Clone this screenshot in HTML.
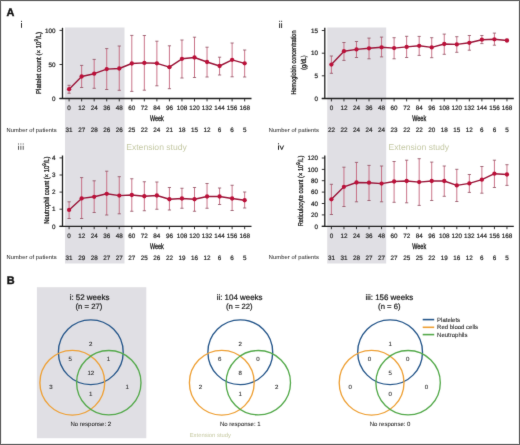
<!DOCTYPE html><html><head><meta charset="utf-8"><style>html,body{margin:0;padding:0;background:#fff;}svg{display:block;}text{font-family:"Liberation Sans", sans-serif;text-rendering:geometricPrecision;}#wrap{position:relative;width:520px;height:445px;overflow:hidden;background:#fff;}</style></head><body><div id="wrap">
<svg width="520" height="445" viewBox="0 0 520 445">
<defs><filter id="soft" x="0" y="0" width="520" height="445" filterUnits="userSpaceOnUse" color-interpolation-filters="sRGB"><feConvolveMatrix order="3" kernelMatrix="0.01 0.065 0.01 0.065 0.70 0.065 0.01 0.065 0.01" edgeMode="duplicate" preserveAlpha="true"/></filter></defs><g filter="url(#soft)">
<rect x="0" y="0" width="520" height="445" fill="#fff"/>
<rect x="65.0" y="27.5" width="59.5" height="236" fill="#e0dfe4"/>
<rect x="327.2" y="27.5" width="59.0" height="236" fill="#e0dfe4"/>
<text x="6.60" y="15.90" font-size="10.9" fill="#111" stroke="#111" stroke-width="0.4" font-weight="bold">A</text>
<text x="6.80" y="283.90" font-size="10.9" fill="#111" stroke="#111" stroke-width="0.4" font-weight="bold">B</text>
<line x1="62.50" y1="27.80" x2="62.50" y2="98.50" stroke="#202020" stroke-width="1.3"/>
<line x1="59.50" y1="98.50" x2="251.50" y2="98.50" stroke="#202020" stroke-width="1.3"/>
<line x1="59.50" y1="30.40" x2="62.50" y2="30.40" stroke="#202020" stroke-width="0.9"/>
<text x="55.60" y="32.60" font-size="6.3" fill="#262626" stroke="#262626" stroke-width="0.22" text-anchor="end">100</text>
<line x1="59.50" y1="64.50" x2="62.50" y2="64.50" stroke="#202020" stroke-width="0.9"/>
<text x="55.60" y="66.70" font-size="6.3" fill="#262626" stroke="#262626" stroke-width="0.22" text-anchor="end">50</text>
<line x1="59.50" y1="98.50" x2="62.50" y2="98.50" stroke="#202020" stroke-width="0.9"/>
<text x="55.60" y="100.70" font-size="6.3" fill="#262626" stroke="#262626" stroke-width="0.22" text-anchor="end">0</text>
<line x1="69.10" y1="98.50" x2="69.10" y2="101.40" stroke="#202020" stroke-width="0.9"/>
<text x="69.10" y="110.10" font-size="6.3" fill="#262626" stroke="#262626" stroke-width="0.19" text-anchor="middle">0</text>
<text x="69.10" y="131.70" font-size="6.3" fill="#262626" stroke="#262626" stroke-width="0.19" text-anchor="middle">31</text>
<line x1="81.64" y1="98.50" x2="81.64" y2="101.40" stroke="#202020" stroke-width="0.9"/>
<text x="81.64" y="110.10" font-size="6.3" fill="#262626" stroke="#262626" stroke-width="0.19" text-anchor="middle">12</text>
<text x="81.64" y="131.70" font-size="6.3" fill="#262626" stroke="#262626" stroke-width="0.19" text-anchor="middle">27</text>
<line x1="94.18" y1="98.50" x2="94.18" y2="101.40" stroke="#202020" stroke-width="0.9"/>
<text x="94.18" y="110.10" font-size="6.3" fill="#262626" stroke="#262626" stroke-width="0.19" text-anchor="middle">24</text>
<text x="94.18" y="131.70" font-size="6.3" fill="#262626" stroke="#262626" stroke-width="0.19" text-anchor="middle">28</text>
<line x1="106.72" y1="98.50" x2="106.72" y2="101.40" stroke="#202020" stroke-width="0.9"/>
<text x="106.72" y="110.10" font-size="6.3" fill="#262626" stroke="#262626" stroke-width="0.19" text-anchor="middle">36</text>
<text x="106.72" y="131.70" font-size="6.3" fill="#262626" stroke="#262626" stroke-width="0.19" text-anchor="middle">26</text>
<line x1="119.26" y1="98.50" x2="119.26" y2="101.40" stroke="#202020" stroke-width="0.9"/>
<text x="119.26" y="110.10" font-size="6.3" fill="#262626" stroke="#262626" stroke-width="0.19" text-anchor="middle">48</text>
<text x="119.26" y="131.70" font-size="6.3" fill="#262626" stroke="#262626" stroke-width="0.19" text-anchor="middle">26</text>
<line x1="131.80" y1="98.50" x2="131.80" y2="101.40" stroke="#202020" stroke-width="0.9"/>
<text x="131.80" y="110.10" font-size="6.3" fill="#262626" stroke="#262626" stroke-width="0.19" text-anchor="middle">60</text>
<text x="131.80" y="131.70" font-size="6.3" fill="#262626" stroke="#262626" stroke-width="0.19" text-anchor="middle">25</text>
<line x1="144.34" y1="98.50" x2="144.34" y2="101.40" stroke="#202020" stroke-width="0.9"/>
<text x="144.34" y="110.10" font-size="6.3" fill="#262626" stroke="#262626" stroke-width="0.19" text-anchor="middle">72</text>
<text x="144.34" y="131.70" font-size="6.3" fill="#262626" stroke="#262626" stroke-width="0.19" text-anchor="middle">22</text>
<line x1="156.88" y1="98.50" x2="156.88" y2="101.40" stroke="#202020" stroke-width="0.9"/>
<text x="156.88" y="110.10" font-size="6.3" fill="#262626" stroke="#262626" stroke-width="0.19" text-anchor="middle">84</text>
<text x="156.88" y="131.70" font-size="6.3" fill="#262626" stroke="#262626" stroke-width="0.19" text-anchor="middle">24</text>
<line x1="169.42" y1="98.50" x2="169.42" y2="101.40" stroke="#202020" stroke-width="0.9"/>
<text x="169.42" y="110.10" font-size="6.3" fill="#262626" stroke="#262626" stroke-width="0.19" text-anchor="middle">96</text>
<text x="169.42" y="131.70" font-size="6.3" fill="#262626" stroke="#262626" stroke-width="0.19" text-anchor="middle">21</text>
<line x1="181.96" y1="98.50" x2="181.96" y2="101.40" stroke="#202020" stroke-width="0.9"/>
<text x="181.96" y="110.10" font-size="6.3" fill="#262626" stroke="#262626" stroke-width="0.19" text-anchor="middle">108</text>
<text x="181.96" y="131.70" font-size="6.3" fill="#262626" stroke="#262626" stroke-width="0.19" text-anchor="middle">18</text>
<line x1="194.50" y1="98.50" x2="194.50" y2="101.40" stroke="#202020" stroke-width="0.9"/>
<text x="194.50" y="110.10" font-size="6.3" fill="#262626" stroke="#262626" stroke-width="0.19" text-anchor="middle">120</text>
<text x="194.50" y="131.70" font-size="6.3" fill="#262626" stroke="#262626" stroke-width="0.19" text-anchor="middle">15</text>
<line x1="207.04" y1="98.50" x2="207.04" y2="101.40" stroke="#202020" stroke-width="0.9"/>
<text x="207.04" y="110.10" font-size="6.3" fill="#262626" stroke="#262626" stroke-width="0.19" text-anchor="middle">132</text>
<text x="207.04" y="131.70" font-size="6.3" fill="#262626" stroke="#262626" stroke-width="0.19" text-anchor="middle">12</text>
<line x1="219.58" y1="98.50" x2="219.58" y2="101.40" stroke="#202020" stroke-width="0.9"/>
<text x="219.58" y="110.10" font-size="6.3" fill="#262626" stroke="#262626" stroke-width="0.19" text-anchor="middle">144</text>
<text x="219.58" y="131.70" font-size="6.3" fill="#262626" stroke="#262626" stroke-width="0.19" text-anchor="middle">6</text>
<line x1="232.12" y1="98.50" x2="232.12" y2="101.40" stroke="#202020" stroke-width="0.9"/>
<text x="232.12" y="110.10" font-size="6.3" fill="#262626" stroke="#262626" stroke-width="0.19" text-anchor="middle">156</text>
<text x="232.12" y="131.70" font-size="6.3" fill="#262626" stroke="#262626" stroke-width="0.19" text-anchor="middle">6</text>
<line x1="244.66" y1="98.50" x2="244.66" y2="101.40" stroke="#202020" stroke-width="0.9"/>
<text x="244.66" y="110.10" font-size="6.3" fill="#262626" stroke="#262626" stroke-width="0.19" text-anchor="middle">168</text>
<text x="244.66" y="131.70" font-size="6.3" fill="#262626" stroke="#262626" stroke-width="0.19" text-anchor="middle">5</text>
<text x="156.90" y="121.40" font-size="8.0" fill="#111" stroke="#111" stroke-width="0.3" text-anchor="middle" textLength="13.8" lengthAdjust="spacingAndGlyphs">Week</text>
<text x="6.50" y="131.60" font-size="5.7" fill="#2e2e2e" stroke="#2e2e2e" stroke-width="0.05" letter-spacing="0.12">Number of patients</text>
<text transform="translate(41.00,63.00) rotate(-90)" x="0" y="0" font-size="7.1" text-anchor="middle" textLength="62" lengthAdjust="spacingAndGlyphs" fill="#151515" stroke="#151515" stroke-width="0.28">Platelet count (× 10<tspan dy="-2.6" font-size="5.3">9</tspan><tspan dy="2.6">/L)</tspan></text>
<line x1="69.10" y1="85.30" x2="69.10" y2="93.20" stroke="#c4647c" stroke-width="0.9"/>
<line x1="67.50" y1="85.30" x2="70.70" y2="85.30" stroke="#8e4c5e" stroke-width="0.8"/>
<line x1="67.50" y1="93.20" x2="70.70" y2="93.20" stroke="#8e4c5e" stroke-width="0.8"/>
<line x1="81.64" y1="65.40" x2="81.64" y2="87.50" stroke="#c4647c" stroke-width="0.9"/>
<line x1="80.04" y1="65.40" x2="83.24" y2="65.40" stroke="#8e4c5e" stroke-width="0.8"/>
<line x1="80.04" y1="87.50" x2="83.24" y2="87.50" stroke="#8e4c5e" stroke-width="0.8"/>
<line x1="94.18" y1="59.40" x2="94.18" y2="88.30" stroke="#c4647c" stroke-width="0.9"/>
<line x1="92.58" y1="59.40" x2="95.78" y2="59.40" stroke="#8e4c5e" stroke-width="0.8"/>
<line x1="92.58" y1="88.30" x2="95.78" y2="88.30" stroke="#8e4c5e" stroke-width="0.8"/>
<line x1="106.72" y1="48.60" x2="106.72" y2="89.50" stroke="#c4647c" stroke-width="0.9"/>
<line x1="105.12" y1="48.60" x2="108.32" y2="48.60" stroke="#8e4c5e" stroke-width="0.8"/>
<line x1="105.12" y1="89.50" x2="108.32" y2="89.50" stroke="#8e4c5e" stroke-width="0.8"/>
<line x1="119.26" y1="46.00" x2="119.26" y2="90.30" stroke="#c4647c" stroke-width="0.9"/>
<line x1="117.66" y1="46.00" x2="120.86" y2="46.00" stroke="#8e4c5e" stroke-width="0.8"/>
<line x1="117.66" y1="90.30" x2="120.86" y2="90.30" stroke="#8e4c5e" stroke-width="0.8"/>
<line x1="131.80" y1="35.40" x2="131.80" y2="91.40" stroke="#c4647c" stroke-width="0.9"/>
<line x1="130.20" y1="35.40" x2="133.40" y2="35.40" stroke="#8e4c5e" stroke-width="0.8"/>
<line x1="130.20" y1="91.40" x2="133.40" y2="91.40" stroke="#8e4c5e" stroke-width="0.8"/>
<line x1="144.34" y1="35.50" x2="144.34" y2="90.20" stroke="#c4647c" stroke-width="0.9"/>
<line x1="142.74" y1="35.50" x2="145.94" y2="35.50" stroke="#8e4c5e" stroke-width="0.8"/>
<line x1="142.74" y1="90.20" x2="145.94" y2="90.20" stroke="#8e4c5e" stroke-width="0.8"/>
<line x1="156.88" y1="41.20" x2="156.88" y2="85.80" stroke="#c4647c" stroke-width="0.9"/>
<line x1="155.28" y1="41.20" x2="158.48" y2="41.20" stroke="#8e4c5e" stroke-width="0.8"/>
<line x1="155.28" y1="85.80" x2="158.48" y2="85.80" stroke="#8e4c5e" stroke-width="0.8"/>
<line x1="169.42" y1="45.80" x2="169.42" y2="88.70" stroke="#c4647c" stroke-width="0.9"/>
<line x1="167.82" y1="45.80" x2="171.02" y2="45.80" stroke="#8e4c5e" stroke-width="0.8"/>
<line x1="167.82" y1="88.70" x2="171.02" y2="88.70" stroke="#8e4c5e" stroke-width="0.8"/>
<line x1="181.96" y1="40.00" x2="181.96" y2="78.00" stroke="#c4647c" stroke-width="0.9"/>
<line x1="180.36" y1="40.00" x2="183.56" y2="40.00" stroke="#8e4c5e" stroke-width="0.8"/>
<line x1="180.36" y1="78.00" x2="183.56" y2="78.00" stroke="#8e4c5e" stroke-width="0.8"/>
<line x1="194.50" y1="37.20" x2="194.50" y2="77.50" stroke="#c4647c" stroke-width="0.9"/>
<line x1="192.90" y1="37.20" x2="196.10" y2="37.20" stroke="#8e4c5e" stroke-width="0.8"/>
<line x1="192.90" y1="77.50" x2="196.10" y2="77.50" stroke="#8e4c5e" stroke-width="0.8"/>
<line x1="207.04" y1="47.20" x2="207.04" y2="77.00" stroke="#c4647c" stroke-width="0.9"/>
<line x1="205.44" y1="47.20" x2="208.64" y2="47.20" stroke="#8e4c5e" stroke-width="0.8"/>
<line x1="205.44" y1="77.00" x2="208.64" y2="77.00" stroke="#8e4c5e" stroke-width="0.8"/>
<line x1="219.58" y1="57.20" x2="219.58" y2="75.00" stroke="#c4647c" stroke-width="0.9"/>
<line x1="217.98" y1="57.20" x2="221.18" y2="57.20" stroke="#8e4c5e" stroke-width="0.8"/>
<line x1="217.98" y1="75.00" x2="221.18" y2="75.00" stroke="#8e4c5e" stroke-width="0.8"/>
<line x1="232.12" y1="43.00" x2="232.12" y2="76.80" stroke="#c4647c" stroke-width="0.9"/>
<line x1="230.52" y1="43.00" x2="233.72" y2="43.00" stroke="#8e4c5e" stroke-width="0.8"/>
<line x1="230.52" y1="76.80" x2="233.72" y2="76.80" stroke="#8e4c5e" stroke-width="0.8"/>
<line x1="244.66" y1="50.00" x2="244.66" y2="77.00" stroke="#c4647c" stroke-width="0.9"/>
<line x1="243.06" y1="50.00" x2="246.26" y2="50.00" stroke="#8e4c5e" stroke-width="0.8"/>
<line x1="243.06" y1="77.00" x2="246.26" y2="77.00" stroke="#8e4c5e" stroke-width="0.8"/>
<polyline points="69.10,89.20 81.64,76.50 94.18,73.70 106.72,69.10 119.26,68.50 131.80,63.50 144.34,62.90 156.88,63.30 169.42,67.20 181.96,58.80 194.50,57.50 207.04,62.00 219.58,66.00 232.12,59.80 244.66,63.30" fill="none" stroke="#9a1538" stroke-width="1.4" stroke-linejoin="round"/>
<circle cx="69.10" cy="89.20" r="2.15" fill="#bb1039"/>
<circle cx="81.64" cy="76.50" r="2.15" fill="#bb1039"/>
<circle cx="94.18" cy="73.70" r="2.15" fill="#bb1039"/>
<circle cx="106.72" cy="69.10" r="2.15" fill="#bb1039"/>
<circle cx="119.26" cy="68.50" r="2.15" fill="#bb1039"/>
<circle cx="131.80" cy="63.50" r="2.15" fill="#bb1039"/>
<circle cx="144.34" cy="62.90" r="2.15" fill="#bb1039"/>
<circle cx="156.88" cy="63.30" r="2.15" fill="#bb1039"/>
<circle cx="169.42" cy="67.20" r="2.15" fill="#bb1039"/>
<circle cx="181.96" cy="58.80" r="2.15" fill="#bb1039"/>
<circle cx="194.50" cy="57.50" r="2.15" fill="#bb1039"/>
<circle cx="207.04" cy="62.00" r="2.15" fill="#bb1039"/>
<circle cx="219.58" cy="66.00" r="2.15" fill="#bb1039"/>
<circle cx="232.12" cy="59.80" r="2.15" fill="#bb1039"/>
<circle cx="244.66" cy="63.30" r="2.15" fill="#bb1039"/>
<line x1="324.80" y1="27.80" x2="324.80" y2="98.50" stroke="#202020" stroke-width="1.3"/>
<line x1="321.80" y1="98.50" x2="513.80" y2="98.50" stroke="#202020" stroke-width="1.3"/>
<line x1="321.80" y1="30.50" x2="324.80" y2="30.50" stroke="#202020" stroke-width="0.9"/>
<text x="317.90" y="32.70" font-size="6.3" fill="#262626" stroke="#262626" stroke-width="0.22" text-anchor="end">15</text>
<line x1="321.80" y1="53.20" x2="324.80" y2="53.20" stroke="#202020" stroke-width="0.9"/>
<text x="317.90" y="55.40" font-size="6.3" fill="#262626" stroke="#262626" stroke-width="0.22" text-anchor="end">10</text>
<line x1="321.80" y1="75.80" x2="324.80" y2="75.80" stroke="#202020" stroke-width="0.9"/>
<text x="317.90" y="78.00" font-size="6.3" fill="#262626" stroke="#262626" stroke-width="0.22" text-anchor="end">5</text>
<line x1="321.80" y1="98.50" x2="324.80" y2="98.50" stroke="#202020" stroke-width="0.9"/>
<text x="317.90" y="100.70" font-size="6.3" fill="#262626" stroke="#262626" stroke-width="0.22" text-anchor="end">0</text>
<line x1="331.40" y1="98.50" x2="331.40" y2="101.40" stroke="#202020" stroke-width="0.9"/>
<text x="331.40" y="110.10" font-size="6.3" fill="#262626" stroke="#262626" stroke-width="0.19" text-anchor="middle">0</text>
<text x="331.40" y="131.70" font-size="6.3" fill="#262626" stroke="#262626" stroke-width="0.19" text-anchor="middle">22</text>
<line x1="343.94" y1="98.50" x2="343.94" y2="101.40" stroke="#202020" stroke-width="0.9"/>
<text x="343.94" y="110.10" font-size="6.3" fill="#262626" stroke="#262626" stroke-width="0.19" text-anchor="middle">12</text>
<text x="343.94" y="131.70" font-size="6.3" fill="#262626" stroke="#262626" stroke-width="0.19" text-anchor="middle">22</text>
<line x1="356.48" y1="98.50" x2="356.48" y2="101.40" stroke="#202020" stroke-width="0.9"/>
<text x="356.48" y="110.10" font-size="6.3" fill="#262626" stroke="#262626" stroke-width="0.19" text-anchor="middle">24</text>
<text x="356.48" y="131.70" font-size="6.3" fill="#262626" stroke="#262626" stroke-width="0.19" text-anchor="middle">24</text>
<line x1="369.02" y1="98.50" x2="369.02" y2="101.40" stroke="#202020" stroke-width="0.9"/>
<text x="369.02" y="110.10" font-size="6.3" fill="#262626" stroke="#262626" stroke-width="0.19" text-anchor="middle">36</text>
<text x="369.02" y="131.70" font-size="6.3" fill="#262626" stroke="#262626" stroke-width="0.19" text-anchor="middle">24</text>
<line x1="381.56" y1="98.50" x2="381.56" y2="101.40" stroke="#202020" stroke-width="0.9"/>
<text x="381.56" y="110.10" font-size="6.3" fill="#262626" stroke="#262626" stroke-width="0.19" text-anchor="middle">48</text>
<text x="381.56" y="131.70" font-size="6.3" fill="#262626" stroke="#262626" stroke-width="0.19" text-anchor="middle">24</text>
<line x1="394.10" y1="98.50" x2="394.10" y2="101.40" stroke="#202020" stroke-width="0.9"/>
<text x="394.10" y="110.10" font-size="6.3" fill="#262626" stroke="#262626" stroke-width="0.19" text-anchor="middle">60</text>
<text x="394.10" y="131.70" font-size="6.3" fill="#262626" stroke="#262626" stroke-width="0.19" text-anchor="middle">23</text>
<line x1="406.64" y1="98.50" x2="406.64" y2="101.40" stroke="#202020" stroke-width="0.9"/>
<text x="406.64" y="110.10" font-size="6.3" fill="#262626" stroke="#262626" stroke-width="0.19" text-anchor="middle">72</text>
<text x="406.64" y="131.70" font-size="6.3" fill="#262626" stroke="#262626" stroke-width="0.19" text-anchor="middle">22</text>
<line x1="419.18" y1="98.50" x2="419.18" y2="101.40" stroke="#202020" stroke-width="0.9"/>
<text x="419.18" y="110.10" font-size="6.3" fill="#262626" stroke="#262626" stroke-width="0.19" text-anchor="middle">84</text>
<text x="419.18" y="131.70" font-size="6.3" fill="#262626" stroke="#262626" stroke-width="0.19" text-anchor="middle">22</text>
<line x1="431.72" y1="98.50" x2="431.72" y2="101.40" stroke="#202020" stroke-width="0.9"/>
<text x="431.72" y="110.10" font-size="6.3" fill="#262626" stroke="#262626" stroke-width="0.19" text-anchor="middle">96</text>
<text x="431.72" y="131.70" font-size="6.3" fill="#262626" stroke="#262626" stroke-width="0.19" text-anchor="middle">20</text>
<line x1="444.26" y1="98.50" x2="444.26" y2="101.40" stroke="#202020" stroke-width="0.9"/>
<text x="444.26" y="110.10" font-size="6.3" fill="#262626" stroke="#262626" stroke-width="0.19" text-anchor="middle">108</text>
<text x="444.26" y="131.70" font-size="6.3" fill="#262626" stroke="#262626" stroke-width="0.19" text-anchor="middle">18</text>
<line x1="456.80" y1="98.50" x2="456.80" y2="101.40" stroke="#202020" stroke-width="0.9"/>
<text x="456.80" y="110.10" font-size="6.3" fill="#262626" stroke="#262626" stroke-width="0.19" text-anchor="middle">120</text>
<text x="456.80" y="131.70" font-size="6.3" fill="#262626" stroke="#262626" stroke-width="0.19" text-anchor="middle">15</text>
<line x1="469.34" y1="98.50" x2="469.34" y2="101.40" stroke="#202020" stroke-width="0.9"/>
<text x="469.34" y="110.10" font-size="6.3" fill="#262626" stroke="#262626" stroke-width="0.19" text-anchor="middle">132</text>
<text x="469.34" y="131.70" font-size="6.3" fill="#262626" stroke="#262626" stroke-width="0.19" text-anchor="middle">12</text>
<line x1="481.88" y1="98.50" x2="481.88" y2="101.40" stroke="#202020" stroke-width="0.9"/>
<text x="481.88" y="110.10" font-size="6.3" fill="#262626" stroke="#262626" stroke-width="0.19" text-anchor="middle">144</text>
<text x="481.88" y="131.70" font-size="6.3" fill="#262626" stroke="#262626" stroke-width="0.19" text-anchor="middle">6</text>
<line x1="494.42" y1="98.50" x2="494.42" y2="101.40" stroke="#202020" stroke-width="0.9"/>
<text x="494.42" y="110.10" font-size="6.3" fill="#262626" stroke="#262626" stroke-width="0.19" text-anchor="middle">156</text>
<text x="494.42" y="131.70" font-size="6.3" fill="#262626" stroke="#262626" stroke-width="0.19" text-anchor="middle">6</text>
<line x1="506.96" y1="98.50" x2="506.96" y2="101.40" stroke="#202020" stroke-width="0.9"/>
<text x="506.96" y="110.10" font-size="6.3" fill="#262626" stroke="#262626" stroke-width="0.19" text-anchor="middle">168</text>
<text x="506.96" y="131.70" font-size="6.3" fill="#262626" stroke="#262626" stroke-width="0.19" text-anchor="middle">5</text>
<text x="419.20" y="121.40" font-size="8.0" fill="#111" stroke="#111" stroke-width="0.3" text-anchor="middle" textLength="13.8" lengthAdjust="spacingAndGlyphs">Week</text>
<text x="268.80" y="131.60" font-size="5.7" fill="#2e2e2e" stroke="#2e2e2e" stroke-width="0.05" letter-spacing="0.12">Number of patients</text>
<text transform="translate(295.90,62.50) rotate(-90)" x="0" y="0" font-size="7.1" text-anchor="middle" textLength="64" lengthAdjust="spacingAndGlyphs" fill="#151515" stroke="#151515" stroke-width="0.28">Hemoglobin concentration</text><text transform="translate(306.00,62.60) rotate(-90)" x="0" y="0" font-size="7.1" text-anchor="middle" textLength="14.2" lengthAdjust="spacingAndGlyphs" fill="#151515" stroke="#151515" stroke-width="0.28">(g/dL)</text>
<line x1="331.40" y1="56.00" x2="331.40" y2="73.30" stroke="#c4647c" stroke-width="0.9"/>
<line x1="329.80" y1="56.00" x2="333.00" y2="56.00" stroke="#8e4c5e" stroke-width="0.8"/>
<line x1="329.80" y1="73.30" x2="333.00" y2="73.30" stroke="#8e4c5e" stroke-width="0.8"/>
<line x1="343.94" y1="42.50" x2="343.94" y2="60.40" stroke="#c4647c" stroke-width="0.9"/>
<line x1="342.34" y1="42.50" x2="345.54" y2="42.50" stroke="#8e4c5e" stroke-width="0.8"/>
<line x1="342.34" y1="60.40" x2="345.54" y2="60.40" stroke="#8e4c5e" stroke-width="0.8"/>
<line x1="356.48" y1="41.50" x2="356.48" y2="57.50" stroke="#c4647c" stroke-width="0.9"/>
<line x1="354.88" y1="41.50" x2="358.08" y2="41.50" stroke="#8e4c5e" stroke-width="0.8"/>
<line x1="354.88" y1="57.50" x2="358.08" y2="57.50" stroke="#8e4c5e" stroke-width="0.8"/>
<line x1="369.02" y1="38.10" x2="369.02" y2="58.80" stroke="#c4647c" stroke-width="0.9"/>
<line x1="367.42" y1="38.10" x2="370.62" y2="38.10" stroke="#8e4c5e" stroke-width="0.8"/>
<line x1="367.42" y1="58.80" x2="370.62" y2="58.80" stroke="#8e4c5e" stroke-width="0.8"/>
<line x1="381.56" y1="37.10" x2="381.56" y2="56.90" stroke="#c4647c" stroke-width="0.9"/>
<line x1="379.96" y1="37.10" x2="383.16" y2="37.10" stroke="#8e4c5e" stroke-width="0.8"/>
<line x1="379.96" y1="56.90" x2="383.16" y2="56.90" stroke="#8e4c5e" stroke-width="0.8"/>
<line x1="394.10" y1="37.70" x2="394.10" y2="58.80" stroke="#c4647c" stroke-width="0.9"/>
<line x1="392.50" y1="37.70" x2="395.70" y2="37.70" stroke="#8e4c5e" stroke-width="0.8"/>
<line x1="392.50" y1="58.80" x2="395.70" y2="58.80" stroke="#8e4c5e" stroke-width="0.8"/>
<line x1="406.64" y1="36.30" x2="406.64" y2="57.50" stroke="#c4647c" stroke-width="0.9"/>
<line x1="405.04" y1="36.30" x2="408.24" y2="36.30" stroke="#8e4c5e" stroke-width="0.8"/>
<line x1="405.04" y1="57.50" x2="408.24" y2="57.50" stroke="#8e4c5e" stroke-width="0.8"/>
<line x1="419.18" y1="36.40" x2="419.18" y2="55.40" stroke="#c4647c" stroke-width="0.9"/>
<line x1="417.58" y1="36.40" x2="420.78" y2="36.40" stroke="#8e4c5e" stroke-width="0.8"/>
<line x1="417.58" y1="55.40" x2="420.78" y2="55.40" stroke="#8e4c5e" stroke-width="0.8"/>
<line x1="431.72" y1="37.70" x2="431.72" y2="57.70" stroke="#c4647c" stroke-width="0.9"/>
<line x1="430.12" y1="37.70" x2="433.32" y2="37.70" stroke="#8e4c5e" stroke-width="0.8"/>
<line x1="430.12" y1="57.70" x2="433.32" y2="57.70" stroke="#8e4c5e" stroke-width="0.8"/>
<line x1="444.26" y1="34.10" x2="444.26" y2="54.30" stroke="#c4647c" stroke-width="0.9"/>
<line x1="442.66" y1="34.10" x2="445.86" y2="34.10" stroke="#8e4c5e" stroke-width="0.8"/>
<line x1="442.66" y1="54.30" x2="445.86" y2="54.30" stroke="#8e4c5e" stroke-width="0.8"/>
<line x1="456.80" y1="36.70" x2="456.80" y2="52.30" stroke="#c4647c" stroke-width="0.9"/>
<line x1="455.20" y1="36.70" x2="458.40" y2="36.70" stroke="#8e4c5e" stroke-width="0.8"/>
<line x1="455.20" y1="52.30" x2="458.40" y2="52.30" stroke="#8e4c5e" stroke-width="0.8"/>
<line x1="469.34" y1="35.50" x2="469.34" y2="50.20" stroke="#c4647c" stroke-width="0.9"/>
<line x1="467.74" y1="35.50" x2="470.94" y2="35.50" stroke="#8e4c5e" stroke-width="0.8"/>
<line x1="467.74" y1="50.20" x2="470.94" y2="50.20" stroke="#8e4c5e" stroke-width="0.8"/>
<line x1="481.88" y1="35.50" x2="481.88" y2="43.60" stroke="#c4647c" stroke-width="0.9"/>
<line x1="480.28" y1="35.50" x2="483.48" y2="35.50" stroke="#8e4c5e" stroke-width="0.8"/>
<line x1="480.28" y1="43.60" x2="483.48" y2="43.60" stroke="#8e4c5e" stroke-width="0.8"/>
<line x1="494.42" y1="33.10" x2="494.42" y2="45.20" stroke="#c4647c" stroke-width="0.9"/>
<line x1="492.82" y1="33.10" x2="496.02" y2="33.10" stroke="#8e4c5e" stroke-width="0.8"/>
<line x1="492.82" y1="45.20" x2="496.02" y2="45.20" stroke="#8e4c5e" stroke-width="0.8"/>
<line x1="506.96" y1="39.30" x2="506.96" y2="41.70" stroke="#c4647c" stroke-width="0.9"/>
<line x1="505.36" y1="39.30" x2="508.56" y2="39.30" stroke="#8e4c5e" stroke-width="0.8"/>
<line x1="505.36" y1="41.70" x2="508.56" y2="41.70" stroke="#8e4c5e" stroke-width="0.8"/>
<polyline points="331.40,64.60 343.94,51.20 356.48,49.40 369.02,48.30 381.56,47.30 394.10,48.10 406.64,46.90 419.18,45.80 431.72,47.40 444.26,44.00 456.80,44.40 469.34,42.80 481.88,39.70 494.42,39.30 506.96,40.50" fill="none" stroke="#9a1538" stroke-width="1.4" stroke-linejoin="round"/>
<circle cx="331.40" cy="64.60" r="2.15" fill="#bb1039"/>
<circle cx="343.94" cy="51.20" r="2.15" fill="#bb1039"/>
<circle cx="356.48" cy="49.40" r="2.15" fill="#bb1039"/>
<circle cx="369.02" cy="48.30" r="2.15" fill="#bb1039"/>
<circle cx="381.56" cy="47.30" r="2.15" fill="#bb1039"/>
<circle cx="394.10" cy="48.10" r="2.15" fill="#bb1039"/>
<circle cx="406.64" cy="46.90" r="2.15" fill="#bb1039"/>
<circle cx="419.18" cy="45.80" r="2.15" fill="#bb1039"/>
<circle cx="431.72" cy="47.40" r="2.15" fill="#bb1039"/>
<circle cx="444.26" cy="44.00" r="2.15" fill="#bb1039"/>
<circle cx="456.80" cy="44.40" r="2.15" fill="#bb1039"/>
<circle cx="469.34" cy="42.80" r="2.15" fill="#bb1039"/>
<circle cx="481.88" cy="39.70" r="2.15" fill="#bb1039"/>
<circle cx="494.42" cy="39.30" r="2.15" fill="#bb1039"/>
<circle cx="506.96" cy="40.50" r="2.15" fill="#bb1039"/>
<line x1="62.50" y1="155.50" x2="62.50" y2="226.30" stroke="#202020" stroke-width="1.3"/>
<line x1="59.50" y1="226.30" x2="251.50" y2="226.30" stroke="#202020" stroke-width="1.3"/>
<line x1="59.50" y1="157.90" x2="62.50" y2="157.90" stroke="#202020" stroke-width="0.9"/>
<text x="55.60" y="160.10" font-size="6.3" fill="#262626" stroke="#262626" stroke-width="0.22" text-anchor="end">4</text>
<line x1="59.50" y1="175.00" x2="62.50" y2="175.00" stroke="#202020" stroke-width="0.9"/>
<text x="55.60" y="177.20" font-size="6.3" fill="#262626" stroke="#262626" stroke-width="0.22" text-anchor="end">3</text>
<line x1="59.50" y1="192.10" x2="62.50" y2="192.10" stroke="#202020" stroke-width="0.9"/>
<text x="55.60" y="194.30" font-size="6.3" fill="#262626" stroke="#262626" stroke-width="0.22" text-anchor="end">2</text>
<line x1="59.50" y1="209.20" x2="62.50" y2="209.20" stroke="#202020" stroke-width="0.9"/>
<text x="55.60" y="211.40" font-size="6.3" fill="#262626" stroke="#262626" stroke-width="0.22" text-anchor="end">1</text>
<line x1="59.50" y1="226.30" x2="62.50" y2="226.30" stroke="#202020" stroke-width="0.9"/>
<text x="55.60" y="228.50" font-size="6.3" fill="#262626" stroke="#262626" stroke-width="0.22" text-anchor="end">0</text>
<line x1="69.10" y1="226.30" x2="69.10" y2="229.20" stroke="#202020" stroke-width="0.9"/>
<text x="69.10" y="237.90" font-size="6.3" fill="#262626" stroke="#262626" stroke-width="0.19" text-anchor="middle">0</text>
<text x="69.10" y="259.50" font-size="6.3" fill="#262626" stroke="#262626" stroke-width="0.19" text-anchor="middle">31</text>
<line x1="81.64" y1="226.30" x2="81.64" y2="229.20" stroke="#202020" stroke-width="0.9"/>
<text x="81.64" y="237.90" font-size="6.3" fill="#262626" stroke="#262626" stroke-width="0.19" text-anchor="middle">12</text>
<text x="81.64" y="259.50" font-size="6.3" fill="#262626" stroke="#262626" stroke-width="0.19" text-anchor="middle">29</text>
<line x1="94.18" y1="226.30" x2="94.18" y2="229.20" stroke="#202020" stroke-width="0.9"/>
<text x="94.18" y="237.90" font-size="6.3" fill="#262626" stroke="#262626" stroke-width="0.19" text-anchor="middle">24</text>
<text x="94.18" y="259.50" font-size="6.3" fill="#262626" stroke="#262626" stroke-width="0.19" text-anchor="middle">28</text>
<line x1="106.72" y1="226.30" x2="106.72" y2="229.20" stroke="#202020" stroke-width="0.9"/>
<text x="106.72" y="237.90" font-size="6.3" fill="#262626" stroke="#262626" stroke-width="0.19" text-anchor="middle">36</text>
<text x="106.72" y="259.50" font-size="6.3" fill="#262626" stroke="#262626" stroke-width="0.19" text-anchor="middle">27</text>
<line x1="119.26" y1="226.30" x2="119.26" y2="229.20" stroke="#202020" stroke-width="0.9"/>
<text x="119.26" y="237.90" font-size="6.3" fill="#262626" stroke="#262626" stroke-width="0.19" text-anchor="middle">48</text>
<text x="119.26" y="259.50" font-size="6.3" fill="#262626" stroke="#262626" stroke-width="0.19" text-anchor="middle">27</text>
<line x1="131.80" y1="226.30" x2="131.80" y2="229.20" stroke="#202020" stroke-width="0.9"/>
<text x="131.80" y="237.90" font-size="6.3" fill="#262626" stroke="#262626" stroke-width="0.19" text-anchor="middle">60</text>
<text x="131.80" y="259.50" font-size="6.3" fill="#262626" stroke="#262626" stroke-width="0.19" text-anchor="middle">27</text>
<line x1="144.34" y1="226.30" x2="144.34" y2="229.20" stroke="#202020" stroke-width="0.9"/>
<text x="144.34" y="237.90" font-size="6.3" fill="#262626" stroke="#262626" stroke-width="0.19" text-anchor="middle">72</text>
<text x="144.34" y="259.50" font-size="6.3" fill="#262626" stroke="#262626" stroke-width="0.19" text-anchor="middle">25</text>
<line x1="156.88" y1="226.30" x2="156.88" y2="229.20" stroke="#202020" stroke-width="0.9"/>
<text x="156.88" y="237.90" font-size="6.3" fill="#262626" stroke="#262626" stroke-width="0.19" text-anchor="middle">84</text>
<text x="156.88" y="259.50" font-size="6.3" fill="#262626" stroke="#262626" stroke-width="0.19" text-anchor="middle">26</text>
<line x1="169.42" y1="226.30" x2="169.42" y2="229.20" stroke="#202020" stroke-width="0.9"/>
<text x="169.42" y="237.90" font-size="6.3" fill="#262626" stroke="#262626" stroke-width="0.19" text-anchor="middle">96</text>
<text x="169.42" y="259.50" font-size="6.3" fill="#262626" stroke="#262626" stroke-width="0.19" text-anchor="middle">22</text>
<line x1="181.96" y1="226.30" x2="181.96" y2="229.20" stroke="#202020" stroke-width="0.9"/>
<text x="181.96" y="237.90" font-size="6.3" fill="#262626" stroke="#262626" stroke-width="0.19" text-anchor="middle">108</text>
<text x="181.96" y="259.50" font-size="6.3" fill="#262626" stroke="#262626" stroke-width="0.19" text-anchor="middle">19</text>
<line x1="194.50" y1="226.30" x2="194.50" y2="229.20" stroke="#202020" stroke-width="0.9"/>
<text x="194.50" y="237.90" font-size="6.3" fill="#262626" stroke="#262626" stroke-width="0.19" text-anchor="middle">120</text>
<text x="194.50" y="259.50" font-size="6.3" fill="#262626" stroke="#262626" stroke-width="0.19" text-anchor="middle">16</text>
<line x1="207.04" y1="226.30" x2="207.04" y2="229.20" stroke="#202020" stroke-width="0.9"/>
<text x="207.04" y="237.90" font-size="6.3" fill="#262626" stroke="#262626" stroke-width="0.19" text-anchor="middle">132</text>
<text x="207.04" y="259.50" font-size="6.3" fill="#262626" stroke="#262626" stroke-width="0.19" text-anchor="middle">12</text>
<line x1="219.58" y1="226.30" x2="219.58" y2="229.20" stroke="#202020" stroke-width="0.9"/>
<text x="219.58" y="237.90" font-size="6.3" fill="#262626" stroke="#262626" stroke-width="0.19" text-anchor="middle">144</text>
<text x="219.58" y="259.50" font-size="6.3" fill="#262626" stroke="#262626" stroke-width="0.19" text-anchor="middle">6</text>
<line x1="232.12" y1="226.30" x2="232.12" y2="229.20" stroke="#202020" stroke-width="0.9"/>
<text x="232.12" y="237.90" font-size="6.3" fill="#262626" stroke="#262626" stroke-width="0.19" text-anchor="middle">156</text>
<text x="232.12" y="259.50" font-size="6.3" fill="#262626" stroke="#262626" stroke-width="0.19" text-anchor="middle">6</text>
<line x1="244.66" y1="226.30" x2="244.66" y2="229.20" stroke="#202020" stroke-width="0.9"/>
<text x="244.66" y="237.90" font-size="6.3" fill="#262626" stroke="#262626" stroke-width="0.19" text-anchor="middle">168</text>
<text x="244.66" y="259.50" font-size="6.3" fill="#262626" stroke="#262626" stroke-width="0.19" text-anchor="middle">5</text>
<text x="156.90" y="249.20" font-size="8.0" fill="#111" stroke="#111" stroke-width="0.3" text-anchor="middle" textLength="13.8" lengthAdjust="spacingAndGlyphs">Week</text>
<text x="6.50" y="259.40" font-size="5.7" fill="#2e2e2e" stroke="#2e2e2e" stroke-width="0.05" letter-spacing="0.12">Number of patients</text>
<text transform="translate(48.50,190.10) rotate(-90)" x="0" y="0" font-size="7.1" text-anchor="middle" textLength="67.2" lengthAdjust="spacingAndGlyphs" fill="#151515" stroke="#151515" stroke-width="0.28">Neutrophil count (× 10<tspan dy="-2.6" font-size="5.3">9</tspan><tspan dy="2.6">/L)</tspan></text>
<line x1="69.10" y1="201.80" x2="69.10" y2="218.50" stroke="#c4647c" stroke-width="0.9"/>
<line x1="67.50" y1="201.80" x2="70.70" y2="201.80" stroke="#8e4c5e" stroke-width="0.8"/>
<line x1="67.50" y1="218.50" x2="70.70" y2="218.50" stroke="#8e4c5e" stroke-width="0.8"/>
<line x1="81.64" y1="177.60" x2="81.64" y2="218.50" stroke="#c4647c" stroke-width="0.9"/>
<line x1="80.04" y1="177.60" x2="83.24" y2="177.60" stroke="#8e4c5e" stroke-width="0.8"/>
<line x1="80.04" y1="218.50" x2="83.24" y2="218.50" stroke="#8e4c5e" stroke-width="0.8"/>
<line x1="94.18" y1="180.80" x2="94.18" y2="212.50" stroke="#c4647c" stroke-width="0.9"/>
<line x1="92.58" y1="180.80" x2="95.78" y2="180.80" stroke="#8e4c5e" stroke-width="0.8"/>
<line x1="92.58" y1="212.50" x2="95.78" y2="212.50" stroke="#8e4c5e" stroke-width="0.8"/>
<line x1="106.72" y1="171.20" x2="106.72" y2="215.00" stroke="#c4647c" stroke-width="0.9"/>
<line x1="105.12" y1="171.20" x2="108.32" y2="171.20" stroke="#8e4c5e" stroke-width="0.8"/>
<line x1="105.12" y1="215.00" x2="108.32" y2="215.00" stroke="#8e4c5e" stroke-width="0.8"/>
<line x1="119.26" y1="176.70" x2="119.26" y2="213.80" stroke="#c4647c" stroke-width="0.9"/>
<line x1="117.66" y1="176.70" x2="120.86" y2="176.70" stroke="#8e4c5e" stroke-width="0.8"/>
<line x1="117.66" y1="213.80" x2="120.86" y2="213.80" stroke="#8e4c5e" stroke-width="0.8"/>
<line x1="131.80" y1="178.75" x2="131.80" y2="211.25" stroke="#c4647c" stroke-width="0.9"/>
<line x1="130.20" y1="178.75" x2="133.40" y2="178.75" stroke="#8e4c5e" stroke-width="0.8"/>
<line x1="130.20" y1="211.25" x2="133.40" y2="211.25" stroke="#8e4c5e" stroke-width="0.8"/>
<line x1="144.34" y1="181.75" x2="144.34" y2="210.75" stroke="#c4647c" stroke-width="0.9"/>
<line x1="142.74" y1="181.75" x2="145.94" y2="181.75" stroke="#8e4c5e" stroke-width="0.8"/>
<line x1="142.74" y1="210.75" x2="145.94" y2="210.75" stroke="#8e4c5e" stroke-width="0.8"/>
<line x1="156.88" y1="182.00" x2="156.88" y2="209.25" stroke="#c4647c" stroke-width="0.9"/>
<line x1="155.28" y1="182.00" x2="158.48" y2="182.00" stroke="#8e4c5e" stroke-width="0.8"/>
<line x1="155.28" y1="209.25" x2="158.48" y2="209.25" stroke="#8e4c5e" stroke-width="0.8"/>
<line x1="169.42" y1="187.50" x2="169.42" y2="210.00" stroke="#c4647c" stroke-width="0.9"/>
<line x1="167.82" y1="187.50" x2="171.02" y2="187.50" stroke="#8e4c5e" stroke-width="0.8"/>
<line x1="167.82" y1="210.00" x2="171.02" y2="210.00" stroke="#8e4c5e" stroke-width="0.8"/>
<line x1="181.96" y1="188.25" x2="181.96" y2="208.25" stroke="#c4647c" stroke-width="0.9"/>
<line x1="180.36" y1="188.25" x2="183.56" y2="188.25" stroke="#8e4c5e" stroke-width="0.8"/>
<line x1="180.36" y1="208.25" x2="183.56" y2="208.25" stroke="#8e4c5e" stroke-width="0.8"/>
<line x1="194.50" y1="187.50" x2="194.50" y2="211.25" stroke="#c4647c" stroke-width="0.9"/>
<line x1="192.90" y1="187.50" x2="196.10" y2="187.50" stroke="#8e4c5e" stroke-width="0.8"/>
<line x1="192.90" y1="211.25" x2="196.10" y2="211.25" stroke="#8e4c5e" stroke-width="0.8"/>
<line x1="207.04" y1="183.50" x2="207.04" y2="208.25" stroke="#c4647c" stroke-width="0.9"/>
<line x1="205.44" y1="183.50" x2="208.64" y2="183.50" stroke="#8e4c5e" stroke-width="0.8"/>
<line x1="205.44" y1="208.25" x2="208.64" y2="208.25" stroke="#8e4c5e" stroke-width="0.8"/>
<line x1="219.58" y1="188.00" x2="219.58" y2="204.50" stroke="#c4647c" stroke-width="0.9"/>
<line x1="217.98" y1="188.00" x2="221.18" y2="188.00" stroke="#8e4c5e" stroke-width="0.8"/>
<line x1="217.98" y1="204.50" x2="221.18" y2="204.50" stroke="#8e4c5e" stroke-width="0.8"/>
<line x1="232.12" y1="185.25" x2="232.12" y2="210.50" stroke="#c4647c" stroke-width="0.9"/>
<line x1="230.52" y1="185.25" x2="233.72" y2="185.25" stroke="#8e4c5e" stroke-width="0.8"/>
<line x1="230.52" y1="210.50" x2="233.72" y2="210.50" stroke="#8e4c5e" stroke-width="0.8"/>
<line x1="244.66" y1="192.00" x2="244.66" y2="208.00" stroke="#c4647c" stroke-width="0.9"/>
<line x1="243.06" y1="192.00" x2="246.26" y2="192.00" stroke="#8e4c5e" stroke-width="0.8"/>
<line x1="243.06" y1="208.00" x2="246.26" y2="208.00" stroke="#8e4c5e" stroke-width="0.8"/>
<polyline points="69.10,209.90 81.64,198.40 94.18,196.80 106.72,193.80 119.26,195.60 131.80,195.00 144.34,196.25 156.88,195.50 169.42,199.25 181.96,198.50 194.50,199.25 207.04,196.50 219.58,196.50 232.12,198.50 244.66,200.25" fill="none" stroke="#9a1538" stroke-width="1.4" stroke-linejoin="round"/>
<circle cx="69.10" cy="209.90" r="2.15" fill="#bb1039"/>
<circle cx="81.64" cy="198.40" r="2.15" fill="#bb1039"/>
<circle cx="94.18" cy="196.80" r="2.15" fill="#bb1039"/>
<circle cx="106.72" cy="193.80" r="2.15" fill="#bb1039"/>
<circle cx="119.26" cy="195.60" r="2.15" fill="#bb1039"/>
<circle cx="131.80" cy="195.00" r="2.15" fill="#bb1039"/>
<circle cx="144.34" cy="196.25" r="2.15" fill="#bb1039"/>
<circle cx="156.88" cy="195.50" r="2.15" fill="#bb1039"/>
<circle cx="169.42" cy="199.25" r="2.15" fill="#bb1039"/>
<circle cx="181.96" cy="198.50" r="2.15" fill="#bb1039"/>
<circle cx="194.50" cy="199.25" r="2.15" fill="#bb1039"/>
<circle cx="207.04" cy="196.50" r="2.15" fill="#bb1039"/>
<circle cx="219.58" cy="196.50" r="2.15" fill="#bb1039"/>
<circle cx="232.12" cy="198.50" r="2.15" fill="#bb1039"/>
<circle cx="244.66" cy="200.25" r="2.15" fill="#bb1039"/>
<line x1="324.80" y1="155.50" x2="324.80" y2="226.30" stroke="#202020" stroke-width="1.3"/>
<line x1="321.80" y1="226.30" x2="513.80" y2="226.30" stroke="#202020" stroke-width="1.3"/>
<line x1="321.80" y1="158.00" x2="324.80" y2="158.00" stroke="#202020" stroke-width="0.9"/>
<text x="317.90" y="160.20" font-size="6.3" fill="#262626" stroke="#262626" stroke-width="0.22" text-anchor="end">120</text>
<line x1="321.80" y1="169.40" x2="324.80" y2="169.40" stroke="#202020" stroke-width="0.9"/>
<text x="317.90" y="171.60" font-size="6.3" fill="#262626" stroke="#262626" stroke-width="0.22" text-anchor="end">100</text>
<line x1="321.80" y1="180.70" x2="324.80" y2="180.70" stroke="#202020" stroke-width="0.9"/>
<text x="317.90" y="182.90" font-size="6.3" fill="#262626" stroke="#262626" stroke-width="0.22" text-anchor="end">80</text>
<line x1="321.80" y1="192.10" x2="324.80" y2="192.10" stroke="#202020" stroke-width="0.9"/>
<text x="317.90" y="194.30" font-size="6.3" fill="#262626" stroke="#262626" stroke-width="0.22" text-anchor="end">60</text>
<line x1="321.80" y1="203.50" x2="324.80" y2="203.50" stroke="#202020" stroke-width="0.9"/>
<text x="317.90" y="205.70" font-size="6.3" fill="#262626" stroke="#262626" stroke-width="0.22" text-anchor="end">40</text>
<line x1="321.80" y1="214.90" x2="324.80" y2="214.90" stroke="#202020" stroke-width="0.9"/>
<text x="317.90" y="217.10" font-size="6.3" fill="#262626" stroke="#262626" stroke-width="0.22" text-anchor="end">20</text>
<line x1="321.80" y1="226.30" x2="324.80" y2="226.30" stroke="#202020" stroke-width="0.9"/>
<text x="317.90" y="228.50" font-size="6.3" fill="#262626" stroke="#262626" stroke-width="0.22" text-anchor="end">0</text>
<line x1="331.40" y1="226.30" x2="331.40" y2="229.20" stroke="#202020" stroke-width="0.9"/>
<text x="331.40" y="237.90" font-size="6.3" fill="#262626" stroke="#262626" stroke-width="0.19" text-anchor="middle">0</text>
<text x="331.40" y="259.50" font-size="6.3" fill="#262626" stroke="#262626" stroke-width="0.19" text-anchor="middle">31</text>
<line x1="343.94" y1="226.30" x2="343.94" y2="229.20" stroke="#202020" stroke-width="0.9"/>
<text x="343.94" y="237.90" font-size="6.3" fill="#262626" stroke="#262626" stroke-width="0.19" text-anchor="middle">12</text>
<text x="343.94" y="259.50" font-size="6.3" fill="#262626" stroke="#262626" stroke-width="0.19" text-anchor="middle">31</text>
<line x1="356.48" y1="226.30" x2="356.48" y2="229.20" stroke="#202020" stroke-width="0.9"/>
<text x="356.48" y="237.90" font-size="6.3" fill="#262626" stroke="#262626" stroke-width="0.19" text-anchor="middle">24</text>
<text x="356.48" y="259.50" font-size="6.3" fill="#262626" stroke="#262626" stroke-width="0.19" text-anchor="middle">28</text>
<line x1="369.02" y1="226.30" x2="369.02" y2="229.20" stroke="#202020" stroke-width="0.9"/>
<text x="369.02" y="237.90" font-size="6.3" fill="#262626" stroke="#262626" stroke-width="0.19" text-anchor="middle">36</text>
<text x="369.02" y="259.50" font-size="6.3" fill="#262626" stroke="#262626" stroke-width="0.19" text-anchor="middle">27</text>
<line x1="381.56" y1="226.30" x2="381.56" y2="229.20" stroke="#202020" stroke-width="0.9"/>
<text x="381.56" y="237.90" font-size="6.3" fill="#262626" stroke="#262626" stroke-width="0.19" text-anchor="middle">48</text>
<text x="381.56" y="259.50" font-size="6.3" fill="#262626" stroke="#262626" stroke-width="0.19" text-anchor="middle">27</text>
<line x1="394.10" y1="226.30" x2="394.10" y2="229.20" stroke="#202020" stroke-width="0.9"/>
<text x="394.10" y="237.90" font-size="6.3" fill="#262626" stroke="#262626" stroke-width="0.19" text-anchor="middle">60</text>
<text x="394.10" y="259.50" font-size="6.3" fill="#262626" stroke="#262626" stroke-width="0.19" text-anchor="middle">27</text>
<line x1="406.64" y1="226.30" x2="406.64" y2="229.20" stroke="#202020" stroke-width="0.9"/>
<text x="406.64" y="237.90" font-size="6.3" fill="#262626" stroke="#262626" stroke-width="0.19" text-anchor="middle">72</text>
<text x="406.64" y="259.50" font-size="6.3" fill="#262626" stroke="#262626" stroke-width="0.19" text-anchor="middle">25</text>
<line x1="419.18" y1="226.30" x2="419.18" y2="229.20" stroke="#202020" stroke-width="0.9"/>
<text x="419.18" y="237.90" font-size="6.3" fill="#262626" stroke="#262626" stroke-width="0.19" text-anchor="middle">84</text>
<text x="419.18" y="259.50" font-size="6.3" fill="#262626" stroke="#262626" stroke-width="0.19" text-anchor="middle">25</text>
<line x1="431.72" y1="226.30" x2="431.72" y2="229.20" stroke="#202020" stroke-width="0.9"/>
<text x="431.72" y="237.90" font-size="6.3" fill="#262626" stroke="#262626" stroke-width="0.19" text-anchor="middle">96</text>
<text x="431.72" y="259.50" font-size="6.3" fill="#262626" stroke="#262626" stroke-width="0.19" text-anchor="middle">22</text>
<line x1="444.26" y1="226.30" x2="444.26" y2="229.20" stroke="#202020" stroke-width="0.9"/>
<text x="444.26" y="237.90" font-size="6.3" fill="#262626" stroke="#262626" stroke-width="0.19" text-anchor="middle">108</text>
<text x="444.26" y="259.50" font-size="6.3" fill="#262626" stroke="#262626" stroke-width="0.19" text-anchor="middle">19</text>
<line x1="456.80" y1="226.30" x2="456.80" y2="229.20" stroke="#202020" stroke-width="0.9"/>
<text x="456.80" y="237.90" font-size="6.3" fill="#262626" stroke="#262626" stroke-width="0.19" text-anchor="middle">120</text>
<text x="456.80" y="259.50" font-size="6.3" fill="#262626" stroke="#262626" stroke-width="0.19" text-anchor="middle">16</text>
<line x1="469.34" y1="226.30" x2="469.34" y2="229.20" stroke="#202020" stroke-width="0.9"/>
<text x="469.34" y="237.90" font-size="6.3" fill="#262626" stroke="#262626" stroke-width="0.19" text-anchor="middle">132</text>
<text x="469.34" y="259.50" font-size="6.3" fill="#262626" stroke="#262626" stroke-width="0.19" text-anchor="middle">12</text>
<line x1="481.88" y1="226.30" x2="481.88" y2="229.20" stroke="#202020" stroke-width="0.9"/>
<text x="481.88" y="237.90" font-size="6.3" fill="#262626" stroke="#262626" stroke-width="0.19" text-anchor="middle">144</text>
<text x="481.88" y="259.50" font-size="6.3" fill="#262626" stroke="#262626" stroke-width="0.19" text-anchor="middle">6</text>
<line x1="494.42" y1="226.30" x2="494.42" y2="229.20" stroke="#202020" stroke-width="0.9"/>
<text x="494.42" y="237.90" font-size="6.3" fill="#262626" stroke="#262626" stroke-width="0.19" text-anchor="middle">156</text>
<text x="494.42" y="259.50" font-size="6.3" fill="#262626" stroke="#262626" stroke-width="0.19" text-anchor="middle">6</text>
<line x1="506.96" y1="226.30" x2="506.96" y2="229.20" stroke="#202020" stroke-width="0.9"/>
<text x="506.96" y="237.90" font-size="6.3" fill="#262626" stroke="#262626" stroke-width="0.19" text-anchor="middle">168</text>
<text x="506.96" y="259.50" font-size="6.3" fill="#262626" stroke="#262626" stroke-width="0.19" text-anchor="middle">5</text>
<text x="419.20" y="249.20" font-size="8.0" fill="#111" stroke="#111" stroke-width="0.3" text-anchor="middle" textLength="13.8" lengthAdjust="spacingAndGlyphs">Week</text>
<text x="268.80" y="259.40" font-size="5.7" fill="#2e2e2e" stroke="#2e2e2e" stroke-width="0.05" letter-spacing="0.12">Number of patients</text>
<text transform="translate(303.00,191.00) rotate(-90)" x="0" y="0" font-size="7.1" text-anchor="middle" textLength="70.7" lengthAdjust="spacingAndGlyphs" fill="#151515" stroke="#151515" stroke-width="0.28">Reticulocyte count (× 10<tspan dy="-2.6" font-size="5.3">9</tspan><tspan dy="2.6">/L)</tspan></text>
<line x1="331.40" y1="184.30" x2="331.40" y2="214.50" stroke="#c4647c" stroke-width="0.9"/>
<line x1="329.80" y1="184.30" x2="333.00" y2="184.30" stroke="#8e4c5e" stroke-width="0.8"/>
<line x1="329.80" y1="214.50" x2="333.00" y2="214.50" stroke="#8e4c5e" stroke-width="0.8"/>
<line x1="343.94" y1="167.20" x2="343.94" y2="206.50" stroke="#c4647c" stroke-width="0.9"/>
<line x1="342.34" y1="167.20" x2="345.54" y2="167.20" stroke="#8e4c5e" stroke-width="0.8"/>
<line x1="342.34" y1="206.50" x2="345.54" y2="206.50" stroke="#8e4c5e" stroke-width="0.8"/>
<line x1="356.48" y1="162.40" x2="356.48" y2="201.80" stroke="#c4647c" stroke-width="0.9"/>
<line x1="354.88" y1="162.40" x2="358.08" y2="162.40" stroke="#8e4c5e" stroke-width="0.8"/>
<line x1="354.88" y1="201.80" x2="358.08" y2="201.80" stroke="#8e4c5e" stroke-width="0.8"/>
<line x1="369.02" y1="165.40" x2="369.02" y2="200.50" stroke="#c4647c" stroke-width="0.9"/>
<line x1="367.42" y1="165.40" x2="370.62" y2="165.40" stroke="#8e4c5e" stroke-width="0.8"/>
<line x1="367.42" y1="200.50" x2="370.62" y2="200.50" stroke="#8e4c5e" stroke-width="0.8"/>
<line x1="381.56" y1="166.00" x2="381.56" y2="201.80" stroke="#c4647c" stroke-width="0.9"/>
<line x1="379.96" y1="166.00" x2="383.16" y2="166.00" stroke="#8e4c5e" stroke-width="0.8"/>
<line x1="379.96" y1="201.80" x2="383.16" y2="201.80" stroke="#8e4c5e" stroke-width="0.8"/>
<line x1="394.10" y1="161.50" x2="394.10" y2="202.30" stroke="#c4647c" stroke-width="0.9"/>
<line x1="392.50" y1="161.50" x2="395.70" y2="161.50" stroke="#8e4c5e" stroke-width="0.8"/>
<line x1="392.50" y1="202.30" x2="395.70" y2="202.30" stroke="#8e4c5e" stroke-width="0.8"/>
<line x1="406.64" y1="160.20" x2="406.64" y2="202.80" stroke="#c4647c" stroke-width="0.9"/>
<line x1="405.04" y1="160.20" x2="408.24" y2="160.20" stroke="#8e4c5e" stroke-width="0.8"/>
<line x1="405.04" y1="202.80" x2="408.24" y2="202.80" stroke="#8e4c5e" stroke-width="0.8"/>
<line x1="419.18" y1="158.70" x2="419.18" y2="205.40" stroke="#c4647c" stroke-width="0.9"/>
<line x1="417.58" y1="158.70" x2="420.78" y2="158.70" stroke="#8e4c5e" stroke-width="0.8"/>
<line x1="417.58" y1="205.40" x2="420.78" y2="205.40" stroke="#8e4c5e" stroke-width="0.8"/>
<line x1="431.72" y1="162.10" x2="431.72" y2="200.50" stroke="#c4647c" stroke-width="0.9"/>
<line x1="430.12" y1="162.10" x2="433.32" y2="162.10" stroke="#8e4c5e" stroke-width="0.8"/>
<line x1="430.12" y1="200.50" x2="433.32" y2="200.50" stroke="#8e4c5e" stroke-width="0.8"/>
<line x1="444.26" y1="166.00" x2="444.26" y2="196.30" stroke="#c4647c" stroke-width="0.9"/>
<line x1="442.66" y1="166.00" x2="445.86" y2="166.00" stroke="#8e4c5e" stroke-width="0.8"/>
<line x1="442.66" y1="196.30" x2="445.86" y2="196.30" stroke="#8e4c5e" stroke-width="0.8"/>
<line x1="456.80" y1="169.30" x2="456.80" y2="201.50" stroke="#c4647c" stroke-width="0.9"/>
<line x1="455.20" y1="169.30" x2="458.40" y2="169.30" stroke="#8e4c5e" stroke-width="0.8"/>
<line x1="455.20" y1="201.50" x2="458.40" y2="201.50" stroke="#8e4c5e" stroke-width="0.8"/>
<line x1="469.34" y1="174.50" x2="469.34" y2="192.40" stroke="#c4647c" stroke-width="0.9"/>
<line x1="467.74" y1="174.50" x2="470.94" y2="174.50" stroke="#8e4c5e" stroke-width="0.8"/>
<line x1="467.74" y1="192.40" x2="470.94" y2="192.40" stroke="#8e4c5e" stroke-width="0.8"/>
<line x1="481.88" y1="166.50" x2="481.88" y2="193.20" stroke="#c4647c" stroke-width="0.9"/>
<line x1="480.28" y1="166.50" x2="483.48" y2="166.50" stroke="#8e4c5e" stroke-width="0.8"/>
<line x1="480.28" y1="193.20" x2="483.48" y2="193.20" stroke="#8e4c5e" stroke-width="0.8"/>
<line x1="494.42" y1="160.20" x2="494.42" y2="187.50" stroke="#c4647c" stroke-width="0.9"/>
<line x1="492.82" y1="160.20" x2="496.02" y2="160.20" stroke="#8e4c5e" stroke-width="0.8"/>
<line x1="492.82" y1="187.50" x2="496.02" y2="187.50" stroke="#8e4c5e" stroke-width="0.8"/>
<line x1="506.96" y1="164.70" x2="506.96" y2="185.40" stroke="#c4647c" stroke-width="0.9"/>
<line x1="505.36" y1="164.70" x2="508.56" y2="164.70" stroke="#8e4c5e" stroke-width="0.8"/>
<line x1="505.36" y1="185.40" x2="508.56" y2="185.40" stroke="#8e4c5e" stroke-width="0.8"/>
<polyline points="331.40,199.30 343.94,186.80 356.48,182.50 369.02,182.70 381.56,183.60 394.10,181.50 406.64,181.00 419.18,182.10 431.72,181.00 444.26,181.00 456.80,185.40 469.34,183.40 481.88,179.70 494.42,173.70 506.96,174.50" fill="none" stroke="#9a1538" stroke-width="1.4" stroke-linejoin="round"/>
<circle cx="331.40" cy="199.30" r="2.15" fill="#bb1039"/>
<circle cx="343.94" cy="186.80" r="2.15" fill="#bb1039"/>
<circle cx="356.48" cy="182.50" r="2.15" fill="#bb1039"/>
<circle cx="369.02" cy="182.70" r="2.15" fill="#bb1039"/>
<circle cx="381.56" cy="183.60" r="2.15" fill="#bb1039"/>
<circle cx="394.10" cy="181.50" r="2.15" fill="#bb1039"/>
<circle cx="406.64" cy="181.00" r="2.15" fill="#bb1039"/>
<circle cx="419.18" cy="182.10" r="2.15" fill="#bb1039"/>
<circle cx="431.72" cy="181.00" r="2.15" fill="#bb1039"/>
<circle cx="444.26" cy="181.00" r="2.15" fill="#bb1039"/>
<circle cx="456.80" cy="185.40" r="2.15" fill="#bb1039"/>
<circle cx="469.34" cy="183.40" r="2.15" fill="#bb1039"/>
<circle cx="481.88" cy="179.70" r="2.15" fill="#bb1039"/>
<circle cx="494.42" cy="173.70" r="2.15" fill="#bb1039"/>
<circle cx="506.96" cy="174.50" r="2.15" fill="#bb1039"/>
<rect x="21.00" y="20.85" width="1.00" height="1.1" fill="#333"/>
<rect x="21.00" y="23.00" width="1.00" height="4.80" fill="#333"/>
<rect x="279.10" y="20.75" width="1.00" height="1.1" fill="#333"/>
<rect x="279.10" y="23.20" width="1.00" height="4.80" fill="#333"/>
<rect x="281.10" y="20.75" width="1.00" height="1.1" fill="#333"/>
<rect x="281.10" y="23.20" width="1.00" height="4.80" fill="#333"/>
<rect x="18.02" y="143.45" width="0.95" height="1.1" fill="#555"/>
<rect x="18.02" y="145.80" width="0.95" height="4.00" fill="#555"/>
<rect x="20.38" y="143.45" width="0.95" height="1.1" fill="#555"/>
<rect x="20.38" y="145.80" width="0.95" height="4.00" fill="#555"/>
<rect x="22.72" y="143.45" width="0.95" height="1.1" fill="#555"/>
<rect x="22.72" y="145.80" width="0.95" height="4.00" fill="#555"/>
<rect x="278.00" y="143.25" width="1.00" height="1.1" fill="#222"/>
<rect x="278.00" y="145.50" width="1.00" height="4.30" fill="#222"/>
<polyline points="279.9,145.5 281.75,149.6 283.6,145.5" fill="none" stroke="#222" stroke-width="1.0"/>
<text x="126.20" y="150.00" font-size="8.6" fill="#c5c9a5">Extension study</text>
<text x="388.50" y="150.00" font-size="8.6" fill="#c5c9a5">Extension study</text>
<rect x="36.9" y="287.2" width="109.4" height="151" fill="#e0dfe4"/>
<text x="89.50" y="299.70" font-size="7.95" fill="#1e1e1e" stroke="#1e1e1e" stroke-width="0.24" text-anchor="middle">i: 52 weeks</text>
<text x="88.90" y="308.50" font-size="7.7" fill="#1e1e1e" stroke="#1e1e1e" stroke-width="0.22" text-anchor="middle">(n = 27)</text>
<circle cx="90.80" cy="352.2" r="32.4" fill="none" stroke="#25568a" stroke-width="1.35"/>
<circle cx="72.30" cy="382.7" r="32.4" fill="none" stroke="#eea035" stroke-width="1.35"/>
<circle cx="108.80" cy="382.7" r="32.2" fill="none" stroke="#53a94a" stroke-width="1.35"/>
<text x="90.80" y="346.40" font-size="6.1" fill="#333" stroke="#333" stroke-width="0.12" text-anchor="middle">2</text>
<text x="70.10" y="360.70" font-size="6.1" fill="#333" stroke="#333" stroke-width="0.12" text-anchor="middle">5</text>
<text x="108.40" y="360.70" font-size="6.1" fill="#333" stroke="#333" stroke-width="0.12" text-anchor="middle">1</text>
<text x="90.80" y="374.90" font-size="6.1" fill="#333" stroke="#333" stroke-width="0.12" text-anchor="middle">12</text>
<text x="51.00" y="389.30" font-size="6.1" fill="#333" stroke="#333" stroke-width="0.12" text-anchor="middle">3</text>
<text x="127.20" y="389.30" font-size="6.1" fill="#333" stroke="#333" stroke-width="0.12" text-anchor="middle">1</text>
<text x="90.80" y="396.10" font-size="6.1" fill="#333" stroke="#333" stroke-width="0.12" text-anchor="middle">1</text>
<text x="90.80" y="425.50" font-size="6" fill="#222" stroke="#222" stroke-width="0.06" text-anchor="middle">No response: 2</text>
<text x="239.60" y="299.70" font-size="7.95" fill="#1e1e1e" stroke="#1e1e1e" stroke-width="0.24" text-anchor="middle">ii: 104 weeks</text>
<text x="239.30" y="308.50" font-size="7.7" fill="#1e1e1e" stroke="#1e1e1e" stroke-width="0.22" text-anchor="middle">(n = 22)</text>
<circle cx="240.30" cy="352.2" r="32.4" fill="none" stroke="#25568a" stroke-width="1.35"/>
<circle cx="221.80" cy="382.7" r="32.4" fill="none" stroke="#eea035" stroke-width="1.35"/>
<circle cx="258.30" cy="382.7" r="32.2" fill="none" stroke="#53a94a" stroke-width="1.35"/>
<text x="240.30" y="346.40" font-size="6.1" fill="#333" stroke="#333" stroke-width="0.12" text-anchor="middle">2</text>
<text x="219.60" y="360.70" font-size="6.1" fill="#333" stroke="#333" stroke-width="0.12" text-anchor="middle">6</text>
<text x="257.90" y="360.70" font-size="6.1" fill="#333" stroke="#333" stroke-width="0.12" text-anchor="middle">0</text>
<text x="240.30" y="374.90" font-size="6.1" fill="#333" stroke="#333" stroke-width="0.12" text-anchor="middle">8</text>
<text x="200.50" y="389.30" font-size="6.1" fill="#333" stroke="#333" stroke-width="0.12" text-anchor="middle">2</text>
<text x="276.70" y="389.30" font-size="6.1" fill="#333" stroke="#333" stroke-width="0.12" text-anchor="middle">2</text>
<text x="240.30" y="396.10" font-size="6.1" fill="#333" stroke="#333" stroke-width="0.12" text-anchor="middle">1</text>
<text x="240.30" y="425.50" font-size="6" fill="#222" stroke="#222" stroke-width="0.06" text-anchor="middle">No response: 1</text>
<text x="389.30" y="299.70" font-size="7.95" fill="#1e1e1e" stroke="#1e1e1e" stroke-width="0.24" text-anchor="middle">iii: 156 weeks</text>
<text x="389.30" y="308.50" font-size="7.7" fill="#1e1e1e" stroke="#1e1e1e" stroke-width="0.22" text-anchor="middle">(n = 6)</text>
<circle cx="390.10" cy="352.2" r="32.4" fill="none" stroke="#25568a" stroke-width="1.35"/>
<circle cx="371.60" cy="382.7" r="32.4" fill="none" stroke="#eea035" stroke-width="1.35"/>
<circle cx="408.10" cy="382.7" r="32.2" fill="none" stroke="#53a94a" stroke-width="1.35"/>
<text x="390.10" y="346.40" font-size="6.1" fill="#333" stroke="#333" stroke-width="0.12" text-anchor="middle">1</text>
<text x="369.40" y="360.70" font-size="6.1" fill="#333" stroke="#333" stroke-width="0.12" text-anchor="middle">0</text>
<text x="407.70" y="360.70" font-size="6.1" fill="#333" stroke="#333" stroke-width="0.12" text-anchor="middle">0</text>
<text x="390.10" y="374.90" font-size="6.1" fill="#333" stroke="#333" stroke-width="0.12" text-anchor="middle">5</text>
<text x="350.30" y="389.30" font-size="6.1" fill="#333" stroke="#333" stroke-width="0.12" text-anchor="middle">0</text>
<text x="426.50" y="389.30" font-size="6.1" fill="#333" stroke="#333" stroke-width="0.12" text-anchor="middle">0</text>
<text x="390.10" y="396.10" font-size="6.1" fill="#333" stroke="#333" stroke-width="0.12" text-anchor="middle">0</text>
<text x="390.10" y="425.50" font-size="6" fill="#222" stroke="#222" stroke-width="0.06" text-anchor="middle">No response: 0</text>
<text x="189.70" y="436.50" font-size="5.85" fill="#c6c9a2">Extension study</text>
<line x1="422.7" y1="319.60" x2="434.2" y2="319.60" stroke="#25568a" stroke-width="1.6"/>
<text x="437.10" y="321.70" font-size="6" fill="#2a2a2a" stroke="#2a2a2a" stroke-width="0.1">Platelets</text>
<line x1="422.7" y1="327.30" x2="434.2" y2="327.30" stroke="#eea035" stroke-width="1.6"/>
<text x="437.10" y="329.40" font-size="6" fill="#2a2a2a" stroke="#2a2a2a" stroke-width="0.1">Red blood cells</text>
<line x1="422.7" y1="334.60" x2="434.2" y2="334.60" stroke="#53a94a" stroke-width="1.6"/>
<text x="437.10" y="336.70" font-size="6" fill="#2a2a2a" stroke="#2a2a2a" stroke-width="0.1">Neutrophils</text>
</g></svg>
<div style="position:absolute;left:0;top:1px;width:520px;height:1px;background:#e6e6e6"></div>
<div style="position:absolute;left:1px;top:0;width:1px;height:445px;background:#e6e6e6"></div>
<div style="position:absolute;left:518px;top:0;width:1px;height:445px;background:#e6e6e6"></div>
<div style="position:absolute;left:0;top:443px;width:520px;height:1px;background:#e6e6e6"></div>
<div style="position:absolute;left:0;top:0;width:520px;height:1px;background:#666"></div>
<div style="position:absolute;left:0;top:0;width:1px;height:445px;background:#666"></div>
<div style="position:absolute;left:519px;top:0;width:1px;height:445px;background:#666"></div>
<div style="position:absolute;left:0;top:444px;width:520px;height:1px;background:#666"></div>
</div></body></html>
